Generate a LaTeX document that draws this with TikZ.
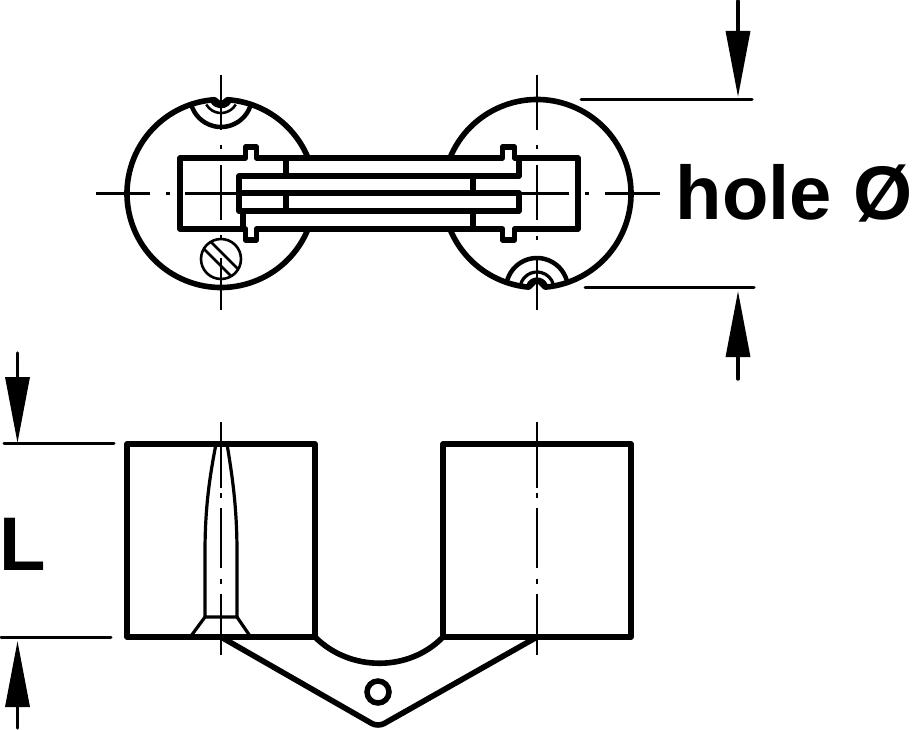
\documentclass[tikz,border=0pt]{standalone}
\usepackage{fontspec}
\setmainfont{Liberation Sans}
\usepackage{tikz}
\usetikzlibrary{arrows.meta}
\tikzset{
  heavy/.style={line width=5.6pt,line join=round,line cap=round},
  medium/.style={line width=3.2pt,line join=round},
  fine/.style={line width=2.6pt},
  centre/.style={line width=2.6pt},
  dimline/.style={line width=3pt,line cap=round},
  dimarrow/.style={line width=3.4pt,line cap=round,-{Triangle[length=66pt,width=24pt]}},
  bigtext/.style={font=\fontsize{76}{76}\selectfont\bfseries,inner sep=0pt,anchor=base west}
}
\begin{document}
\begin{tikzpicture}[x=1pt,y=-1pt]
\useasboundingbox (0,0) rectangle (913,730);
\coordinate (lc) at (221,193.5);
\coordinate (rc) at (537,193.5);
% barrels seen from above
\draw[heavy] (lc) ++(-22:94) arc[start angle=-22,end angle=-86,radius=94] -- (222,104);
\draw[heavy] (lc) ++(22:94) arc[start angle=22,end angle=266,radius=94] -- (220,104);
\draw[heavy] (rc) ++(202:94) arc[start angle=202,end angle=445,radius=94] -- (539,281);
\draw[heavy] (rc) ++(158:94) arc[start angle=158,end angle=95,radius=94] -- (535,281);
% set screw pockets
\draw[line width=4.5pt] (221,96) ++(15:31) arc[start angle=15,end angle=165,radius=31];
\draw[fine] (221,96) ++(30:17) arc[start angle=30,end angle=150,radius=17];
\draw[fine] (221,96) ++(30:11) arc[start angle=30,end angle=150,radius=11];
\draw[line width=4.5pt] (537,289) ++(195:31) arc[start angle=195,end angle=345,radius=31];
\draw[medium] (537,289) ++(195:17) arc[start angle=195,end angle=345,radius=17];
\draw[medium] (537,289) ++(195:10) arc[start angle=195,end angle=345,radius=10];
% body with its four lugs
\draw[heavy,fill=white] (245.5,158) -- (180,158) -- (180,229) -- (245.5,229) -- (245.5,240) -- (256.5,240) -- (256.5,229)
  -- (502.5,229) -- (502.5,240) -- (514.5,240) -- (514.5,229) -- (578,229) -- (578,158) -- (514.5,158) -- (514.5,147)
  -- (502.5,147) -- (502.5,158) -- (256.5,158) -- (256.5,147) -- (245.5,147) -- cycle;
% sliding plates
\draw[heavy] (519,158) -- (519,176) -- (239,176) -- (239,211) -- (519,211) -- (519,193) -- (239,193);
\draw[heavy] (243,211) -- (243,229);
\draw[heavy] (286,158) -- (286,176);
\draw[heavy] (286,193) -- (286,211);
\draw[heavy] (473,176) -- (473,193);
\draw[heavy] (473,211) -- (473,229);
% screw head
\draw[fine] (221,259) circle[radius=20];
\draw[fine] (210.8,241.8) -- (238.2,269.2);
\draw[fine] (203.8,248.8) -- (231.2,276.2);
% centre lines, top view
\draw[centre] (221,75) -- (221,130);
\draw[centre] (221,145) -- (221,149);
\draw[centre] (221,165) -- (221,220);
\draw[centre] (221,235) -- (221,239);
\draw[centre] (221,258) -- (221,310);
\draw[centre] (96,193.5) -- (150,193.5);
\draw[centre] (166,193.5) -- (170,193.5);
\draw[centre] (185,193.5) -- (239,193.5);
\draw[centre] (537,75) -- (537,130);
\draw[centre] (537,145) -- (537,149);
\draw[centre] (537,165) -- (537,220);
\draw[centre] (537,236) -- (537,240);
\draw[centre] (537,257) -- (537,310);
\draw[centre] (520,193.5) -- (569,193.5);
\draw[centre] (585,193.5) -- (589,193.5);
\draw[centre] (605,193.5) -- (660,193.5);
% side view
\draw[heavy] (127,444) rectangle (315,637);
\draw[heavy] (443,444) rectangle (631,637);
\draw[heavy] (315,637) .. controls (350,672) and (409,672) .. (443,637);
\draw[heavy,rounded corners=7pt] (221,637) -- (378,727) -- (537,637);
\draw[line width=5.5pt] (378,692) circle[radius=11];
% screw in the side view
\draw[medium] (216,444) .. controls (209,480) and (205,510) .. (205,553) -- (205,617) -- (237,617) -- (237,553) .. controls (237,510) and (233,480) .. (227,444);
\draw[medium] (205,617) -- (191,636);
\draw[medium] (237,617) -- (250,636);
% centre lines, side view
\draw[centre] (221,422) -- (221,488);
\draw[centre] (221,493) -- (221,498);
\draw[centre] (221,508) -- (221,568);
\draw[centre] (221,579) -- (221,584);
\draw[centre] (221,594) -- (221,655);
\draw[centre] (537,422) -- (537,488);
\draw[centre] (537,493) -- (537,498);
\draw[centre] (537,508) -- (537,568);
\draw[centre] (537,579) -- (537,584);
\draw[centre] (537,594) -- (537,655);
% dimensions
\coordinate (dt0) at (738,1);
\coordinate (dt1) at (738,97);
\coordinate (db0) at (738,379);
\coordinate (db1) at (738,291);
\coordinate (lt0) at (17.5,353);
\coordinate (lt1) at (17.5,443);
\coordinate (lb0) at (17.5,728);
\coordinate (lb1) at (17.5,641);
\draw[dimline] (581,100) -- (752,100);
\draw[dimline] (585,287) -- (754,287);
\draw[dimline] (4,443.5) -- (114,443.5);
\draw[dimline] (1,637) -- (111,637);
\draw[dimarrow] (dt0) -- (dt1);
\draw[dimarrow] (db0) -- (db1);
\draw[dimarrow] (lt0) -- (lt1);
\draw[dimarrow] (lb0) -- (lb1);
\node[bigtext] (holelabel) at (675.5,220) {hole Ø};
\node[bigtext] (lenlabel) at (-0.5,570) {L};
\end{tikzpicture}
\end{document}
